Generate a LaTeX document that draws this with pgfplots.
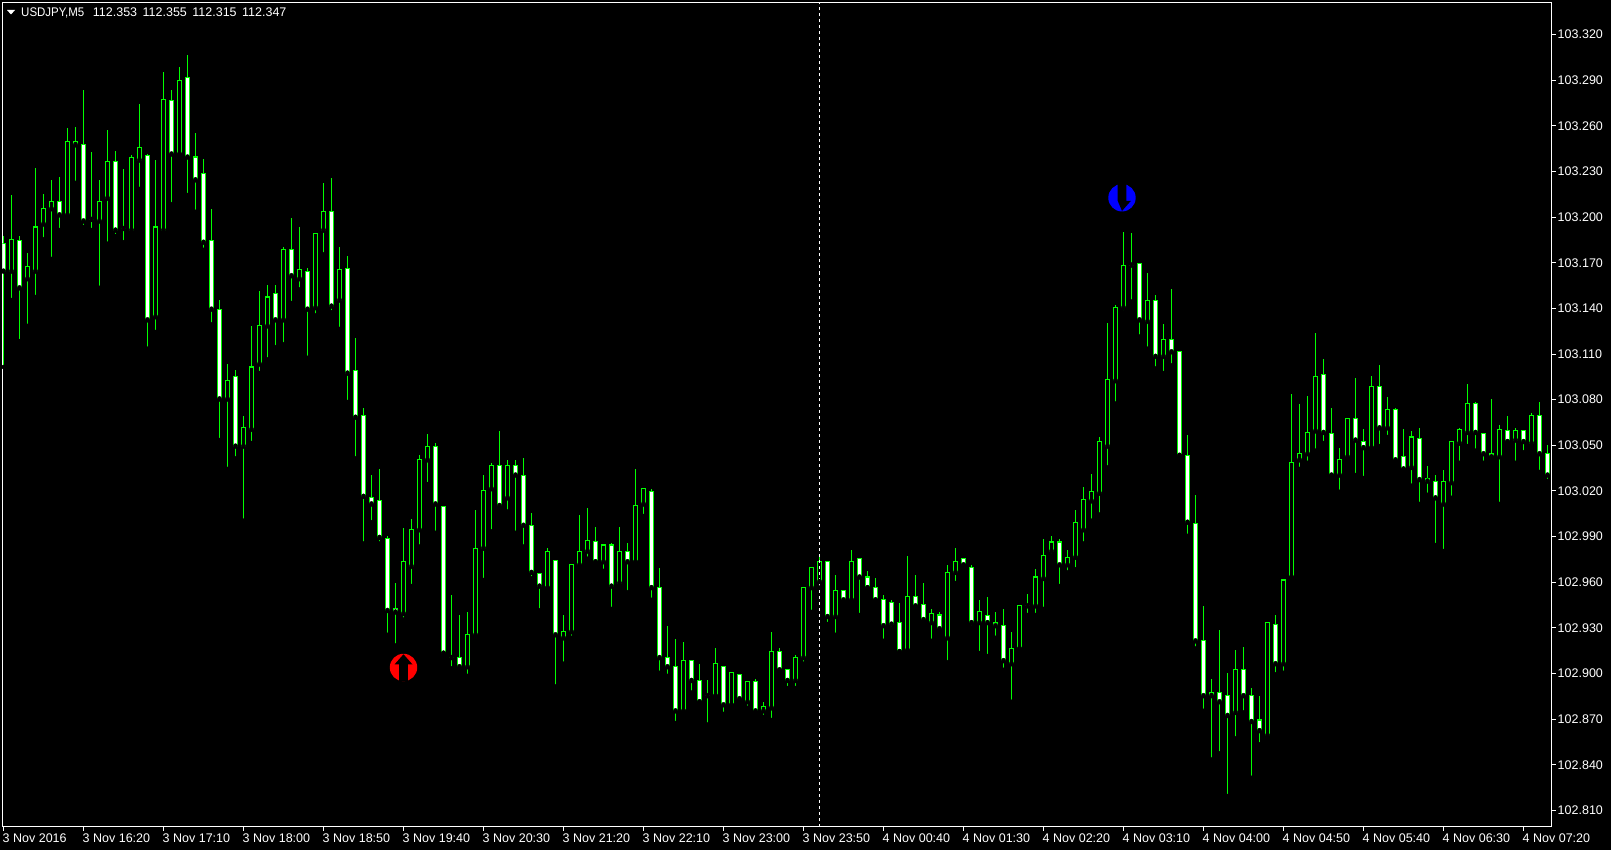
\documentclass[border=0pt]{standalone}
\usepackage{fontspec}
\setmainfont{Liberation Sans}
\usepackage{pgfplots}
\usepackage{pgfplotstable}
\usepackage{graphicx}
\pgfplotsset{compat=1.18}

% up candles: black body
\pgfplotstableread{
i high low top bot
1 103.214 103.145 103.185 103.164
3 103.176 103.128 103.167 103.159
4 103.232 103.147 103.193 103.164
5 103.215 103.185 103.205 103.195
6 103.224 103.172 103.210 103.205
8 103.258 103.200 103.249 103.201
9 103.259 103.222 103.249 103.247
12 103.224 103.153 103.210 103.197
13 103.257 103.182 103.236 103.212
16 103.240 103.189 103.239 103.191
17 103.274 103.218 103.245 103.237
19 103.237 103.124 103.193 103.134
20 103.295 103.189 103.277 103.191
22 103.298 103.241 103.289 103.241
28 103.103 103.034 103.092 103.080
30 103.069 103.000 103.061 103.049
31 103.128 103.051 103.101 103.060
32 103.151 103.097 103.128 103.103
33 103.155 103.106 103.147 103.128
35 103.180 103.116 103.178 103.132
37 103.193 103.152 103.165 103.159
39 103.189 103.135 103.189 103.140
40 103.222 103.175 103.203 103.191
42 103.180 103.126 103.165 103.145
50 102.995 102.935 102.973 102.939
51 103.001 102.957 102.994 102.970
52 103.043 102.983 103.040 102.994
53 103.057 103.024 103.049 103.040
58 102.940 102.898 102.925 102.904
59 103.007 102.924 102.982 102.925
60 103.030 102.961 103.020 102.982
61 103.038 102.993 103.036 103.021
63 103.040 103.006 103.036 103.015
68 102.982 102.956 102.980 102.956
70 102.938 102.906 102.927 102.923
71 102.971 102.923 102.971 102.927
72 103.004 102.969 102.980 102.971
73 103.008 102.975 102.987 102.980
75 102.985 102.967 102.984 102.973
77 102.996 102.957 102.980 102.959
79 103.034 102.973 103.010 102.973
80 103.021 103.003 103.021 103.011
85 102.920 102.875 102.908 102.875
89 102.916 102.885 102.906 102.885
91 102.900 102.879 102.900 102.879
93 102.894 102.877 102.894 102.881
95 102.881 102.871 102.878 102.875
96 102.927 102.869 102.914 102.877
99 102.912 102.890 102.910 102.895
100 102.956 102.906 102.956 102.910
101 102.969 102.940 102.969 102.956
102 102.977 102.956 102.973 102.960
104 102.964 102.925 102.954 102.937
106 102.981 102.946 102.973 102.948
113 102.977 102.913 102.950 102.915
116 102.942 102.921 102.939 102.933
118 102.971 102.907 102.966 102.923
119 102.982 102.959 102.973 102.966
122 102.948 102.913 102.940 102.933
126 102.927 102.881 102.916 102.906
127 102.944 102.916 102.944 102.916
129 102.968 102.938 102.963 102.944
130 102.988 102.942 102.977 102.962
131 102.990 102.977 102.986 102.980
133 102.981 102.966 102.976 102.971
134 103.007 102.968 102.999 102.976
135 103.022 102.985 103.014 102.994
136 103.031 103.000 103.019 103.013
137 103.055 103.004 103.052 103.018
138 103.130 103.035 103.093 103.049
139 103.142 103.077 103.140 103.092
140 103.190 103.137 103.168 103.140
143 103.163 103.113 103.145 103.131
145 103.129 103.097 103.119 103.108
151 102.896 102.843 102.887 102.885
154 102.915 102.857 102.902 102.874
158 102.933 102.857 102.933 102.859
160 102.961 102.900 102.961 102.906
161 103.083 102.963 103.038 102.963
162 103.077 103.034 103.044 103.040
163 103.082 103.038 103.058 103.044
164 103.123 103.046 103.095 103.059
167 103.048 103.019 103.040 103.030
168 103.067 103.040 103.067 103.042
171 103.095 103.048 103.088 103.048
173 103.081 103.055 103.073 103.061
176 103.059 103.023 103.055 103.035
180 103.033 102.980 103.026 103.011
181 103.052 103.015 103.052 103.025
182 103.061 103.038 103.060 103.051
183 103.090 103.049 103.077 103.058
187 103.063 103.011 103.060 103.042
189 103.061 103.038 103.059 103.053
191 103.071 103.049 103.069 103.051
}\bull

% down candles and dojis: white body
\pgfplotstableread{
i high low top bot
0 103.187 103.101 103.182 103.164
2 103.187 103.118 103.184 103.153
7 103.226 103.191 103.210 103.201
10 103.283 103.193 103.247 103.197
11 103.242 103.191 103.198 103.198
14 103.243 103.187 103.236 103.191
15 103.231 103.183 103.192 103.192
18 103.241 103.113 103.240 103.132
21 103.283 103.208 103.276 103.241
23 103.306 103.214 103.291 103.239
24 103.255 103.203 103.239 103.224
25 103.238 103.178 103.228 103.183
26 103.205 103.129 103.184 103.139
27 103.145 103.053 103.139 103.080
29 103.099 103.041 103.095 103.049
34 103.155 103.114 103.149 103.132
36 103.199 103.143 103.178 103.161
38 103.166 103.107 103.164 103.139
41 103.225 103.137 103.203 103.141
43 103.174 103.078 103.166 103.097
44 103.120 103.041 103.099 103.068
45 103.074 102.985 103.069 103.016
46 103.030 102.999 103.015 103.011
47 103.034 102.985 103.013 102.989
48 102.990 102.925 102.988 102.941
49 102.959 102.918 102.942 102.940
54 103.051 102.992 103.049 103.011
55 103.009 102.913 103.009 102.913
56 102.951 102.903 102.910 102.910
57 102.938 102.902 102.910 102.904
62 103.059 103.008 103.036 103.010
64 103.040 102.992 103.036 103.030
65 103.041 102.983 103.030 102.997
66 103.005 102.962 102.997 102.966
67 102.965 102.941 102.965 102.957
69 102.974 102.891 102.974 102.925
74 102.996 102.973 102.986 102.973
76 102.985 102.942 102.984 102.957
78 102.985 102.953 102.980 102.973
81 103.021 102.948 103.019 102.956
82 102.969 102.900 102.956 102.910
83 102.931 102.898 102.910 102.904
84 102.922 102.867 102.904 102.875
86 102.908 102.887 102.908 102.895
87 102.906 102.881 102.895 102.881
88 102.895 102.866 102.885 102.885
90 102.904 102.873 102.904 102.879
92 102.899 102.881 102.899 102.883
94 102.896 102.873 102.894 102.875
97 102.916 102.902 102.914 102.902
98 102.902 102.890 102.902 102.895
103 102.973 102.932 102.973 102.937
105 102.954 102.946 102.954 102.948
107 102.975 102.938 102.975 102.963
108 102.967 102.956 102.963 102.956
109 102.962 102.948 102.956 102.948
110 102.951 102.921 102.948 102.931
111 102.948 102.929 102.946 102.932
112 102.946 102.914 102.933 102.914
114 102.964 102.944 102.950 102.944
115 102.959 102.932 102.945 102.935
117 102.940 102.927 102.938 102.929
120 102.975 102.971 102.975 102.971
121 102.971 102.930 102.969 102.933
123 102.950 102.911 102.938 102.933
124 102.940 102.923 102.933 102.931
125 102.942 102.902 102.931 102.908
128 102.952 102.938 102.944 102.944
132 102.988 102.957 102.986 102.971
141 103.189 103.144 103.168 103.168
142 103.169 103.121 103.169 103.132
144 103.148 103.100 103.145 103.108
146 103.152 103.102 103.119 103.111
147 103.111 103.043 103.111 103.043
148 103.056 102.990 103.043 102.999
149 103.017 102.916 102.998 102.921
150 102.944 102.875 102.921 102.885
152 102.928 102.847 102.887 102.881
153 102.900 102.819 102.885 102.872
155 102.917 102.874 102.902 102.885
156 102.890 102.831 102.885 102.868
157 102.885 102.853 102.869 102.862
159 102.938 102.899 102.932 102.906
165 103.106 103.051 103.096 103.058
166 103.074 103.030 103.057 103.030
169 103.094 103.030 103.067 103.053
170 103.060 103.028 103.052 103.048
172 103.102 103.049 103.088 103.061
174 103.074 103.038 103.073 103.040
175 103.060 103.034 103.042 103.034
177 103.061 103.011 103.054 103.027
178 103.036 103.017 103.028 103.026
179 103.030 102.984 103.026 103.015
184 103.078 103.046 103.077 103.058
185 103.057 103.038 103.057 103.044
186 103.080 103.042 103.044 103.042
188 103.069 103.052 103.059 103.052
190 103.059 103.045 103.059 103.052
192 103.078 103.032 103.069 103.044
193 103.050 103.026 103.044 103.030
}\bear

% wick, green outline, inner fill (0.00066 is one pixel of price, 0.0005 a reading offset)
\newcommand{\candles}[2]{
  \addplot[only marks, mark=none, error bars/.cd, y dir=plus, y explicit, error mark=none,
    error bar style={color=mtgreen, line width=1pt}]
    table[x=i, y expr=\thisrow{low}+0.0005, y error expr=\thisrow{high}-\thisrow{low}] {#1};
  \addplot[only marks, mark=none, error bars/.cd, y dir=plus, y explicit, error mark=none,
    error bar style={color=mtgreen, line width=5pt}]
    table[x=i, y expr=\thisrow{bot}+0.0005-0.00033, y error expr=\thisrow{top}-\thisrow{bot}+0.00066] {#1};
  \addplot[only marks, mark=none, error bars/.cd, y dir=plus, y explicit, error mark=none,
    error bar style={color=#2, line width=3pt}]
    table[x=i, y expr=\thisrow{bot}+0.0005+0.00033, y error expr={max(\thisrow{top}-\thisrow{bot}-0.00066,0)}] {#1};
}

\definecolor{mtgreen}{RGB}{0,255,0}

% signal arrows: disc filled by the plot, arrow cut out in black
\pgfdeclareplotmark{sigup}{%
  \pgfpathcircle{\pgfpointorigin}{13.7pt}\pgfusepath{fill}%
  \pgfsetfillcolor{black}%
  \pgfpathmoveto{\pgfpoint{0pt}{13.2pt}}%
  \pgfpathlineto{\pgfpoint{9pt}{3pt}}%
  \pgfpathlineto{\pgfpoint{4.3pt}{3pt}}%
  \pgfpathlineto{\pgfpoint{4.3pt}{-13.7pt}}%
  \pgfpathlineto{\pgfpoint{-4.3pt}{-13.7pt}}%
  \pgfpathlineto{\pgfpoint{-4.3pt}{3pt}}%
  \pgfpathlineto{\pgfpoint{-9pt}{3pt}}%
  \pgfpathclose\pgfusepath{fill}%
}
\pgfdeclareplotmark{sigdown}{%
  \pgfpathcircle{\pgfpointorigin}{13.7pt}\pgfusepath{fill}%
  \pgfsetfillcolor{black}%
  \pgfpathmoveto{\pgfpoint{0pt}{-13.2pt}}%
  \pgfpathlineto{\pgfpoint{9pt}{-3pt}}%
  \pgfpathlineto{\pgfpoint{4.3pt}{-3pt}}%
  \pgfpathlineto{\pgfpoint{4.3pt}{13.7pt}}%
  \pgfpathlineto{\pgfpoint{-4.3pt}{13.7pt}}%
  \pgfpathlineto{\pgfpoint{-4.3pt}{-3pt}}%
  \pgfpathclose\pgfusepath{fill}%
}

\begin{document}
\fontsize{12.5}{14}\selectfont
\begin{tikzpicture}[x=1pt, y=1pt]
\path[use as bounding box, fill=black] (0,0) rectangle (1611,-850);
\begin{axis}[
  at={(2.5pt,-826.5pt)},
  anchor=south west,
  scale only axis,
  width=1549pt, height=824pt,
  xmin=-0.125, xmax=193.5,
  ymin=102.79948, ymax=103.34103,
  axis line style={white, line width=1pt},
  tick style={white, line width=1pt},
  tick align=outside,
  major tick length=4pt,
  xtick pos=bottom,
  ytick pos=right,
  yticklabel pos=right,
  xtick={0,10,...,190},
  xticklabels={3 Nov 2016,3 Nov 16:20,3 Nov 17:10,3 Nov 18:00,3 Nov 18:50,3 Nov 19:40,3 Nov 20:30,3 Nov 21:20,3 Nov 22:10,3 Nov 23:00,3 Nov 23:50,4 Nov 00:40,4 Nov 01:30,4 Nov 02:20,4 Nov 03:10,4 Nov 04:00,4 Nov 04:50,4 Nov 05:40,4 Nov 06:30,4 Nov 07:20},
  ytick={102.81,102.84,102.87,102.90,102.93,102.96,102.99,103.02,103.05,103.08,103.11,103.14,103.17,103.20,103.23,103.26,103.29,103.32},
  scaled y ticks=false,
  yticklabel style={/pgf/number format/fixed, /pgf/number format/fixed zerofill, /pgf/number format/precision=3, /pgf/number format/assume math mode=true, text=white, anchor=west, inner sep=0pt, xshift=2pt, font=\fontsize{12.5}{14}\selectfont},
  xticklabel style={text=white, anchor=north west, inner sep=0pt, xshift=-1pt, yshift=-3pt, font=\fontsize{12.5}{14}\selectfont},
]
\candles{\bull}{black}
\candles{\bear}{white}
\addplot[white, line width=1pt, dash pattern=on 3pt off 3pt] coordinates {(102,102.79948) (102,103.34103)};
\addplot[only marks, mark=sigup, mark options={fill=red, draw=none}] coordinates {(50,102.9040)};
\addplot[only marks, mark=sigdown, mark options={fill=blue, draw=none}] coordinates {(139.81,103.2127)};
\end{axis}
\fill[white] (7,-10) -- (15,-10) -- (11,-14.5) -- cycle;
\node[anchor=west, text=white, inner sep=0pt] at (21,-12.5) {\scalebox{0.92}[1]{USDJPY,M5}};
\node[anchor=west, text=white, inner sep=0pt] at (92.7,-12.5) {112.353\hspace{5.5pt}112.355\hspace{5.5pt}112.315\hspace{5.5pt}112.347};
\end{tikzpicture}
\end{document}
